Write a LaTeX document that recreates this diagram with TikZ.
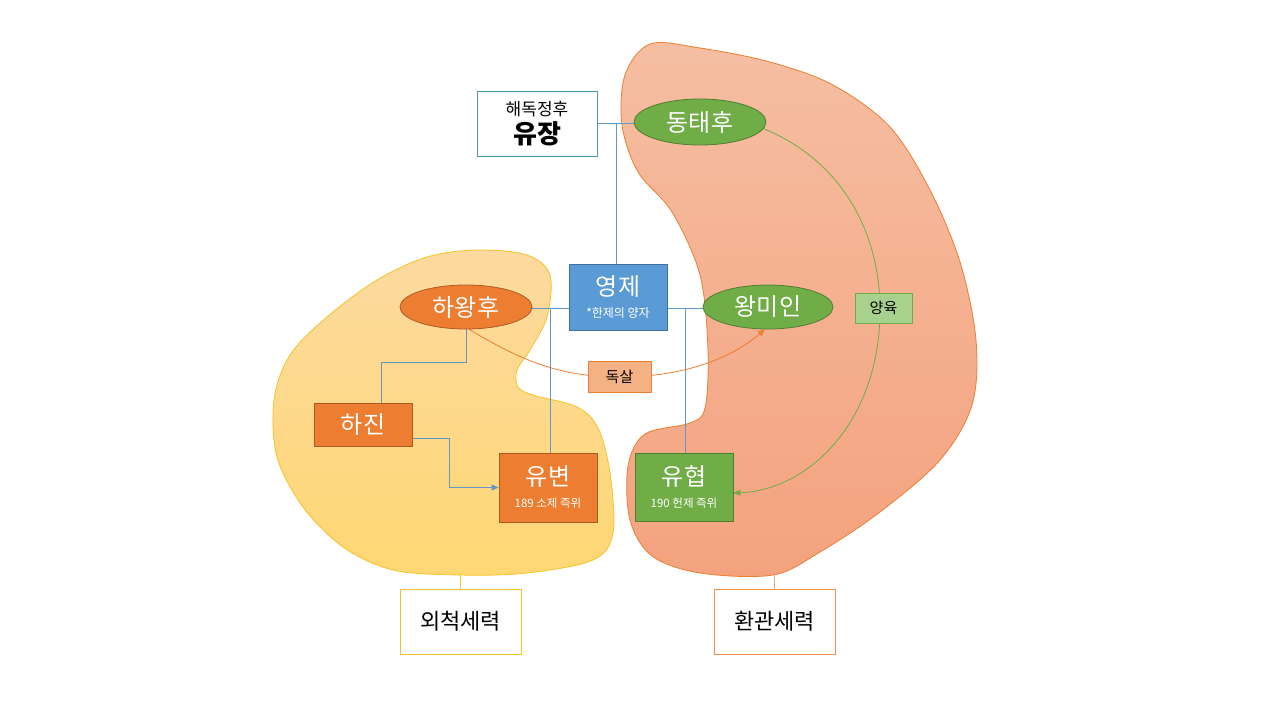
\documentclass[tikz,border=0pt]{standalone}
\usepackage{fontspec}
\setmainfont{Noto Sans CJK KR}
\usetikzlibrary{shapes.geometric,arrows.meta}
\pgfdeclarelayer{bg}
\pgfdeclarelayer{edges}
\pgfsetlayers{bg,edges,main}
\definecolor{cblue}{RGB}{91,155,213}
\definecolor{cblueD}{RGB}{65,113,156}
\definecolor{cgreen}{RGB}{112,173,71}
\definecolor{cgreenD}{RGB}{80,126,50}
\definecolor{corange}{RGB}{237,125,49}
\definecolor{corangeD}{RGB}{174,90,33}
\definecolor{clgreen}{RGB}{169,209,142}
\definecolor{clorange}{RGB}{244,177,131}
\definecolor{cteal}{RGB}{80,150,170}
\definecolor{cgold}{RGB}{245,195,40}
\definecolor{cyelT}{RGB}{252,218,160}
\definecolor{cyelB}{RGB}{255,215,115}
\definecolor{corT}{RGB}{245,190,162}
\definecolor{corB}{RGB}{244,162,126}
\definecolor{cline}{RGB}{100,150,200}
\begin{document}
\begin{tikzpicture}[x=1pt,y=-1pt,
  boxnode/.style={rectangle,draw,line width=0.8pt,inner sep=0pt,align=center},
  ellnode/.style={ellipse,draw,line width=0.8pt,inner sep=0pt,text=white,font=\fontsize{24}{28}\selectfont},
  conn/.style={draw=cline,line width=0.9pt},
  twoline/.style={font=\fontsize{24}{22}\selectfont},
  small/.style={},
  arr/.style={-{Triangle[length=7pt,width=6pt]}}
]
\useasboundingbox (0,0) rectangle (1280,720);

% nodes
\node[boxnode,draw=cteal,fill=white,minimum width=120pt,minimum height=65pt,font=\fontsize{26}{28}\selectfont] (yujang) at (537,123.5)
  {{\fontsize{17}{20}\selectfont 해독정후}\\{\bfseries 유장}};
\node[ellnode,fill=cgreen,draw=cgreenD,minimum width=132pt,minimum height=46pt] (dong) at (700,122) {동태후};
\node[boxnode,twoline,fill=cblue,draw=cblueD,text=white,minimum width=98pt,minimum height=66pt] (yeongje) at (618,297)
  {영제\\{\fontsize{12}{14}\selectfont *한제의 양자}};
\node[ellnode,fill=corange,draw=corangeD,minimum width=132pt,minimum height=44pt] (hawang) at (466,307) {하왕후};
\node[ellnode,fill=cgreen,draw=cgreenD,minimum width=130pt,minimum height=44pt] (wangmi) at (768,307) {왕미인};
\node[boxnode,fill=clgreen,draw=cgreen,minimum width=57pt,minimum height=30pt,font=\fontsize{15}{17}\selectfont] (yangyuk) at (883.5,308) {양육};
\node[boxnode,fill=clorange,draw=corange,minimum width=63pt,minimum height=31pt,font=\fontsize{15}{17}\selectfont] (doksal) at (619.5,376.5) {독살};
\node[boxnode,fill=corange,draw=corangeD,text=white,minimum width=98pt,minimum height=43pt,font=\fontsize{24}{28}\selectfont] (hajin) at (363,424.5) {하진};
\node[boxnode,twoline,fill=corange,draw=corangeD,text=white,minimum width=98pt,minimum height=69pt] (yubyeon) at (548,487.5)
  {유변\\{\fontsize{11.5}{14}\selectfont 189 소제 즉위}};
\node[boxnode,twoline,fill=cgreen,draw=cgreenD,text=white,minimum width=98pt,minimum height=68pt] (yuhyeop) at (684,487)
  {유협\\{\fontsize{11.5}{14}\selectfont 190 헌제 즉위}};
\node[boxnode,draw=cgold,fill=white,minimum width=121pt,minimum height=65pt,font=\fontsize{22}{26}\selectfont] (oecheok) at (460.5,621.5) {외척세력};
\node[boxnode,draw=corange!85!white,fill=white,minimum width=121pt,minimum height=65pt,font=\fontsize{22}{26}\selectfont] (hwangwan) at (774.5,621.5) {환관세력};

% blobs
\begin{pgfonlayer}{bg}
\path[draw=cgold,line width=0.8pt,top color=cyelT,bottom color=cyelB]
  plot[smooth cycle,tension=0.55] coordinates {
  (477,250) (527,255) (550,275) (547,317) (530,350) (517,370) (518,387) (533,395)
  (577,407) (598,428) (610,473) (613,533) (593,560) (527,573) (460,575) (393,570)
  (343,547) (303,507) (277,457) (274,400) (290,355) (327,317) (377,280) (427,257)};
\path[draw=corange,line width=0.8pt,top color=corT,bottom color=corB]
  plot[smooth cycle,tension=0.55] coordinates {
  (650,44) (700,48) (770,62) (833,85) (890,127) (930,190) (960,262) (976,340)
  (972,405) (940,460) (880,512) (820,552) (773,575) (700,573) (652,556) (630,520)
  (628,466) (645,434) (690,423) (705,408) (708,350) (700,275) (672,212) (638,172)
  (622,125) (625,75)};
\end{pgfonlayer}

% connectors
\coordinate (j1) at (616,123);
\coordinate (j2) at (550,308);
\coordinate (j3) at (685,308);
\coordinate (k1) at (381,362);
\coordinate (k2) at (449,438);
\coordinate (g1) at (880,310);
\coordinate (o1) at (619,377);
\begin{pgfonlayer}{edges}
\draw[conn] (yujang.east |- j1) -- (dong.west |- j1);
\draw[conn] (j1) -- (j1 |- yeongje.north);
\draw[conn] (hawang.east |- j2) -- (yeongje.west |- j2);
\draw[conn] (j2) -- (j2 |- yubyeon.north);
\draw[conn] (yeongje.east |- j3) -- (wangmi.west |- j3);
\draw[conn] (j3) -- (j3 |- yuhyeop.north);
\draw[conn] (hawang.south) |- (k1) -- (k1 |- hajin.north);
\draw[conn,arr] (hajin.east |- k2) -- (k2) |- (yubyeon.west);
\draw[draw=corange,line width=0.8pt,arr]
  (hawang.-82) .. controls (520,360) and (560,377) .. (o1)
  .. controls (690,377) and (735,355) .. (wangmi.-98);
\draw[draw=cgreen,line width=0.8pt,arr]
  (dong.-6) .. controls (840,160) and (880,230) .. (g1)
  .. controls (880,420) and (810,490) .. (yuhyeop.east |- 0,493);
\draw[draw=cgold,line width=0.8pt] (oecheok.north) -- ++(0,-14);
\draw[draw=corange!70!white,line width=0.8pt] (hwangwan.north) -- ++(0,-14);
\end{pgfonlayer}
\end{tikzpicture}
\end{document}
